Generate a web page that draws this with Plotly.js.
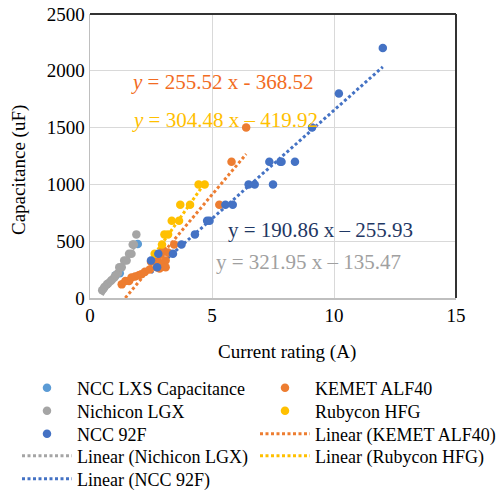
<!DOCTYPE html>
<html>
<head>
<meta charset="utf-8">
<script src="https://cdn.plot.ly/plotly-3.0.1.min.js"></script>
<style>html,body{margin:0;padding:0;background:#fff;}#chart{width:498px;height:492px;}</style>
</head>
<body>
<div id="chart"></div>
<script>
// ---- data ----
const ncclxsX = [1.05, 1.22, 1.96];
const ncclxsY = [200, 217, 475];

const kemetX = [1.3, 1.45, 1.6, 1.7, 1.85, 2.0, 2.1, 2.25, 2.45, 2.5, 2.6, 2.75, 2.85, 2.85, 2.9, 3.0, 3.1, 3.1, 3.2, 3.45, 5.3, 5.8, 6.4];
const kemetY = [120, 150, 150, 180, 190, 200, 210, 230, 250, 320, 330, 270, 260, 310, 380, 420, 330, 270, 400, 470, 820, 1200, 1500];

const nichiconX = [0.5, 0.55, 0.6, 0.7, 0.75, 0.85, 0.9, 1.0, 1.05, 1.15, 1.2, 1.3, 1.4, 1.5, 1.6, 1.7, 1.75, 1.8, 1.9];
const nichiconY = [68, 82, 100, 120, 130, 150, 160, 180, 200, 220, 270, 270, 330, 330, 390, 390, 470, 470, 560];

const rubyconX = [2.65, 2.95, 3.05, 3.2, 3.35, 3.65, 3.7, 4.1, 4.45, 4.7];
const rubyconY = [390, 470, 560, 560, 680, 680, 820, 820, 1000, 1000];

const ncc92fX = [2.5, 2.75, 2.8, 3.4, 3.75, 4.3, 4.8, 4.9, 5.55, 5.85, 6.5, 6.75, 7.5, 7.35, 7.8, 7.85, 8.4, 9.1, 10.2, 12];
const ncc92fY = [330, 270, 390, 390, 470, 560, 680, 680, 820, 820, 1000, 1000, 1000, 1200, 1200, 1200, 1200, 1500, 1800, 2200];

// trendline coefficients [slope, intercept] as shown on the chart
const kemetFit = [255.52, -368.52];
const nichiconFit = [321.95, -135.47];
const rubyconFit = [304.48, -419.92];
const ncc92fFit = [190.86, -255.93];

const xTicks = [0, 5, 10, 15];
const yTicks = [0, 500, 1000, 1500, 2000, 2500];

const eqTexts = [
  "<i>y</i> = 255.52 x - 368.52",
  "<i>y</i> = 304.48 x \u2013 419.92",
  "y = 190.86 x \u2013 255.93",
  "y = 321.95 x \u2013 135.47"
];

// ---- helpers ----
const FONT = "Liberation Serif, serif";
function fitLine(xs, coef) {
  const x0 = Math.min.apply(null, xs), x1 = Math.max.apply(null, xs);
  return {x: [x0, x1], y: [coef[0] * x0 + coef[1], coef[0] * x1 + coef[1]]};
}
function pts(name, xs, ys, color, legend) {
  return {type: 'scatter', mode: 'markers', name: name, x: xs, y: ys,
    marker: {color: color, size: 8.5}, legend: legend, cliponaxis: false};
}
function lin(name, xs, coef, color, legend) {
  const f = fitLine(xs, coef);
  return {type: 'scatter', mode: 'lines', name: name, x: f.x, y: f.y,
    line: {color: color, width: 3, dash: '3px,2.5px'}, legend: legend};
}

const C_LXS = '#5B9BD5', C_KEM = '#ED7D31', C_NIC = '#A5A5A5', C_RUB = '#FFC000', C_92F = '#4472C4';

const traces = [
  lin('Linear (KEMET ALF40)', kemetX, kemetFit, C_KEM, 'legend8'),
  lin('Linear (Nichicon LGX)', nichiconX, nichiconFit, C_NIC, 'legend4'),
  lin('Linear (Rubycon HFG)', rubyconX, rubyconFit, C_RUB, 'legend9'),
  lin('Linear (NCC 92F)', ncc92fX, ncc92fFit, C_92F, 'legend5'),
  pts('NCC LXS Capacitance', ncclxsX, ncclxsY, C_LXS, 'legend'),
  pts('KEMET ALF40', kemetX, kemetY, C_KEM, 'legend6'),
  pts('Nichicon LGX', nichiconX, nichiconY, C_NIC, 'legend2'),
  pts('Rubycon HFG', rubyconX, rubyconY, C_RUB, 'legend7'),
  pts('NCC 92F', ncc92fX, ncc92fY, C_92F, 'legend3')
];

// legend placement (container coordinates)
const W = 498, H = 492;
function leg(xpx, ypx) {
  return {xref: 'container', yref: 'container', x: xpx / W, y: 1 - ypx / H,
    xanchor: 'left', yanchor: 'middle', bgcolor: 'rgba(0,0,0,0)', borderwidth: 0,
    itemwidth: 50, font: {family: FONT, size: 18, color: '#000'}};
}
const col1 = 17, col2 = 255;
const rows = [388, 411, 434, 456, 479];

const L = 90, R = 42, T = 14, B = 194;
const PW = W - L - R, PH = H - T - B;
function ann(text, cx, cy, color, size) {
  return {xref: 'paper', yref: 'paper', x: (cx - L) / PW, y: (H - B - cy) / PH,
    text: text, showarrow: false, xanchor: 'center', yanchor: 'middle',
    font: {family: FONT, size: size || 21, color: color}};
}

const layout = {
  width: W, height: H,
  margin: {l: L, r: R, t: T, b: B, autoexpand: false},
  paper_bgcolor: '#fff', plot_bgcolor: '#fff',
  font: {family: FONT, size: 19, color: '#000'},
  showlegend: true,
  xaxis: {range: [0, 15], tickvals: xTicks, ticktext: xTicks.map(String),
    showgrid: true, gridcolor: '#D9D9D9', gridwidth: 1, zeroline: false,
    showline: true, linecolor: '#BFBFBF', linewidth: 1.5, ticks: '',
    tickfont: {family: FONT, size: 19, color: '#000'},
    automargin: false, fixedrange: true},
  yaxis: {range: [0, 2500], tickvals: yTicks, ticktext: yTicks.map(String),
    showgrid: true, gridcolor: '#D9D9D9', gridwidth: 1, zeroline: false,
    showline: true, linecolor: '#BFBFBF', linewidth: 1.5, ticks: '',
    tickfont: {family: FONT, size: 19, color: '#000'},
    automargin: false, fixedrange: true},
  shapes: [
    {type: 'line', xref: 'paper', yref: 'paper', x0: 0, x1: 1, y0: 1, y1: 1, line: {color: '#333', width: 2}},
    {type: 'line', xref: 'paper', yref: 'paper', x0: 1, x1: 1, y0: 0, y1: 1, line: {color: '#333', width: 2}}
  ],
  annotations: [
    ann(eqTexts[0], 222, 82, '#F26B22'),
    ann(eqTexts[1], 225, 120, '#FFC000'),
    ann(eqTexts[2], 320, 230, '#1F3864'),
    ann(eqTexts[3], 308, 262, '#A0A0A0'),
    // axis titles
    ann('Current rating (A)', 287, 352, '#000', 19),
    Object.assign(ann('Capacitance (uF)', 19, 170, '#000', 19), {textangle: -90})
  ],
  legend: leg(col1, rows[0]),
  legend2: leg(col1, rows[1]),
  legend3: leg(col1, rows[2]),
  legend4: leg(col1, rows[3]),
  legend5: leg(col1, rows[4]),
  legend6: leg(col2, rows[0]),
  legend7: leg(col2, rows[1]),
  legend8: leg(col2, rows[2]),
  legend9: leg(col2, rows[3])
};

Plotly.newPlot('chart', traces, layout, {staticPlot: true, displayModeBar: false});
</script>
</body>
</html>
